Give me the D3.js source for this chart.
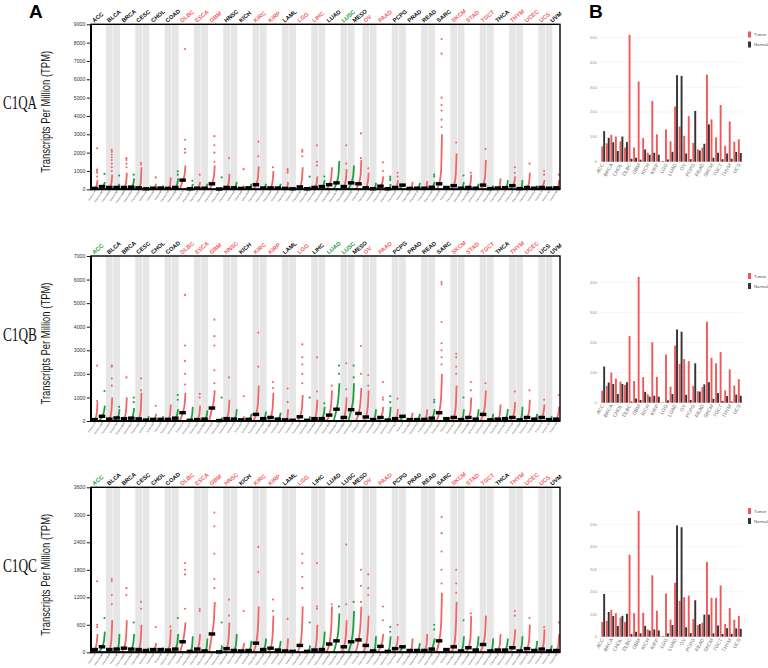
<!DOCTYPE html>
<html>
<head>
<meta charset="utf-8">
<script src="https://cdn.jsdelivr.net/npm/d3@7"></script>
<style>
  body { margin: 0; background: #fff; }
  svg { display: block; font-family: Arial, "Liberation Sans", sans-serif; }
</style>
</head>
<body>
<svg id="fig" width="768" height="668"></svg>
<script>
// ---- data: panel A (GEPIA style dot plots) ----
const cancers = ["ACC","BLCA","BRCA","CESC","CHOL","COAD","DLBC","ESCA","GBM","HNSC","KICH","KIRC","KIRP","LAML","LGG","LIHC","LUAD","LUSC","MESO","OV","PAAD","PCPG","PRAD","READ","SARC","SKCM","STAD","TGCT","THCA","THYM","UCEC","UCS","UVM"];
const tumorNum  = [77,404,1085,306,36,275,47,182,163,519,66,523,286,173,518,369,483,486,87,426,179,182,492,92,262,461,408,137,512,118,174,57,79];
const normalNum = [128,28,291,13,9,349,337,286,207,44,53,100,60,70,207,160,347,338,null,88,171,3,152,318,2,558,211,165,337,339,91,78,null];

// status of each cancer label: u = up in tumor, d = down, n = not significant
const c1qaStatus = ["n","n","n","n","n","n","u","u","u","n","n","u","u","n","u","u","n","d","n","u","u","n","n","n","n","u","u","u","n","u","u","u","n"];
const c1qbStatus = ["d","n","n","n","n","n","u","u","u","u","n","u","u","n","u","n","d","d","n","u","u","n","n","n","n","u","u","u","n","u","u","n","n"];
const c1qcStatus = ["d","n","n","n","n","n","u","u","u","u","n","u","u","n","u","n","n","n","n","u","u","n","n","n","n","u","u","u","n","u","u","u","n"];

// medians (TPM)
const c1qaTumorMed  = [50,100,100,80,60,50,500,60,300,100,50,250,80,50,130,100,250,150,300,80,170,100,50,60,300,200,100,230,70,200,100,100,80];
const c1qaNormalMed = [150,100,120,30,70,100,30,60,20,80,80,70,70,30,30,150,350,350,null,30,30,230,60,110,100,60,60,40,90,40,60,60,null];
// sorted point cloud read as [middle, knee, top of dense run]
const c1qaTumorCurve = [[40,200,500],[90,300,800],[90,300,900],[70,300,1200],[50,150,300],[50,200,650],[450,800,1300],[50,200,400],[280,700,1300],[90,300,850],[40,100,200],[230,600,1250],[70,400,1000],[30,100,400],[120,500,1200],[90,300,700],[230,600,1200],[140,500,1100],[280,700,1600],[70,400,900],[160,400,700],[90,250,500],[50,150,400],[50,150,450],[280,1000,3000],[180,800,1950],[90,300,800],[220,700,1600],[60,200,600],[150,400,700],[90,350,900],[90,300,500],[70,200,500]];
const c1qaTumorOut = [[700,900,1000,1080,2240],[1000,1200,1400,1600,1750,1900,2050,2150],[1200,1400,1600,1700],[1350,1450],[650],[],[2000,2200,2700,7650],[800],[1500,2000,2400,2900],[1700],[1100],[1800,2600],[1200],[900,1000,1100],[1800,2050,2150],[1300,1500,2400],[],[1400,2400],[1700,3050],[1150],[1000,1470],[700,900],[],[],[3400,3800,4300,4600,5000,7400,8200],[2550],[900],[2200],[],[900,1200],[1400],[800,1000],[800]];
const c1qaNormalCurve = [[120,250,400],[80,200,300],[100,300,600],[30,60,100],[60,120,200],[90,300,600],[20,100,300],[50,150,300],[15,40,100],[70,200,400],[70,150,300],[60,150,300],[60,150,300],[20,40,80],[20,60,150],[130,300,500],[330,800,1550],[330,700,1300],null,[20,100,350],[20,100,300],[200,220,250],[50,150,350],[100,250,400],[80,100,120],[50,200,400],[50,150,300],[30,100,200],[80,200,500],[30,150,500],[50,100,200],[50,100,150],null];
const c1qaNormalOut = [[840],[750],[800],[],[],[800,980],[470],[],[650],[],[],[],[],[],[690],[700],[],[],null,[],[500,600,700],[],[],[700,800],[],[750],[],[],[],[],[],[],null];

const c1qbTumorMed  = [60,80,100,90,70,70,350,60,550,100,50,280,150,50,180,100,250,150,320,170,150,100,60,70,350,150,150,280,80,150,150,150,80];
const c1qbNormalMed = [200,130,120,40,70,120,30,80,20,80,70,100,80,30,30,100,500,480,null,60,40,200,60,120,100,60,80,50,100,50,80,60,null];
const c1qbTumorCurve = [[50,300,800],[70,400,1000],[90,400,1000],[80,400,1200],[60,150,300],[60,250,700],[330,700,1200],[50,250,650],[500,900,1300],[90,400,900],[40,100,200],[260,700,1500],[130,500,1200],[30,100,500],[160,500,1100],[90,400,900],[230,700,1300],[140,500,1000],[300,800,1400],[160,600,1300],[140,350,600],[90,250,500],[50,150,350],[60,200,500],[330,1000,2000],[140,600,1500],[140,400,1000],[260,700,1300],[70,250,700],[130,400,800],[130,400,900],[130,400,700],[70,300,600]];
const c1qbTumorOut = [[850,2350],[1500,1800,2300,2350],[1850],[1300,1800],[650],[],[1550,2000,2550,3200,5350],[1000,1150],[1600,2150,3200,3600,4300],[1850],[1050],[2300,3750],[1400,1650],[800,1380],[1600,2000,2400,2700,3250],[1250,2700],[1500],[1350,2450],[2000,3180],[1500,1950],[900,1000,1650],[950],[],[],[2400,2700,3000,3300,4200,5800,5900],[2000,2300,2700,2850],[1300,1650],[1600],[],[1250],[1300],[900],[1100]];
const c1qbNormalCurve = [[180,400,650],[110,250,500],[110,300,550],[30,80,200],[60,120,200],[110,300,500],[20,200,600],[60,200,450],[15,50,150],[70,200,500],[60,150,300],[90,200,400],[70,200,350],[20,40,80],[20,60,200],[90,300,600],[480,1000,1600],[460,900,1600],null,[50,200,500],[30,200,600],[150,200,250],[50,150,300],[100,300,500],[90,100,110],[50,200,500],[70,200,500],[40,100,300],[90,250,500],[40,200,600],[70,150,300],[50,100,200],null];
const c1qbNormalOut = [[1270],[600],[800,1000],[],[],[900,1100],[],[],[1000],[],[],[],[],[],[1000],[750],[2000,2350],[1850,2350],null,[],[800,1050],[],[],[800,900],[],[1000],[],[],[],[],[],[],null];

const c1qcTumorMed  = [60,60,90,60,60,50,230,70,400,80,30,200,90,30,150,50,180,120,270,150,130,80,40,40,250,120,100,170,50,100,80,70,40];
const c1qcNormalMed = [120,70,70,40,60,70,20,30,10,40,40,60,50,20,20,60,250,230,null,30,20,120,40,70,60,30,50,30,50,30,40,30,null];
const c1qcTumorCurve = [[50,200,400],[50,250,700],[80,300,700],[50,250,600],[50,100,200],[40,200,500],[200,450,650],[60,200,400],[380,700,1100],[70,300,650],[25,80,200],[180,500,1000],[80,350,800],[20,80,300],[130,450,1000],[40,250,600],[170,500,1000],[110,350,700],[250,600,1000],[140,450,800],[120,250,400],[70,200,350],[35,100,300],[35,150,400],[230,600,1300],[110,500,1100],[90,300,800],[160,400,800],[45,150,400],[80,250,500],[70,250,600],[60,200,500],[35,150,400]];
const c1qcTumorOut = [[550,600,1550],[1050,1250,1550,1600],[1250,1400],[950,1100],[550],[560],[950,1700,1800,1950],[900,950],[1400,1600,2150,2750,3050],[800,1150],[900],[1750,2300],[900,1150],[730],[1400,1650,1950,2150],[950,1000,1950],[1050],[1050,2350],[1100,1450,1800],[1250,1400,1700],[700,1000],[600],[],[],[1500,1800,2200,2600,2950],[1300,1500,1800],[850],[],[],[800,900],[750],[550],[650]];
const c1qcNormalCurve = [[110,250,450],[60,150,400],[60,200,400],[30,60,100],[50,80,100],[60,200,400],[15,100,350],[25,100,300],[10,40,150],[30,150,400],[30,100,250],[50,150,300],[40,120,250],[15,30,60],[15,50,150],[50,200,450],[230,500,850],[210,500,900],null,[25,100,350],[15,150,350],[100,120,150],[35,100,200],[60,200,300],[55,60,65],[25,150,350],[40,150,350],[25,100,300],[45,150,300],[25,150,350],[35,100,250],[25,80,150],null];
const c1qcNormalOut = [[750],[],[650],[],[],[750],[],[],[650],[],[],[],[],[],[650],[],[1000],[1100],null,[],[450,550],[],[],[500,600],[],[700],[],[],[],[],[],[],null];

// ---- data: panel B (bar charts) ----
const cancersB = ["ACC","BLCA","BRCA","CESC","CHOL","COAD","DLBC","ESCA","GBM","HNSC","KICH","KIRC","KIRP","LAML","LGG","LIHC","LUAD","LUSC","OV","PAAD","PCPG","PRAD","READ","SARC","SKCM","STAD","TGCT","THCA","THYM","UCEC","UCS"];
const seriesB = ["Tumor","Normal"];
const c1qaBarTumor  = [62,74,108,101,82,57,510,57,322,95,36,244,110,2,130,82,222,142,104,183,76,50,57,350,170,98,228,64,162,80,90];
const c1qaBarNormal = [123,96,78,43,101,79,12,16,8,49,28,36,28,2,9,40,348,345,33,10,204,45,72,150,16,36,10,33,12,39,35];
const c1qbBarTumor  = [40,56,100,80,70,59,222,72,418,85,28,201,86,1,160,53,190,129,145,138,56,38,52,269,149,131,168,41,111,57,78];
const c1qbBarNormal = [120,67,62,29,62,68,4,14,9,36,20,23,20,1,8,29,243,236,26,9,131,37,61,68,13,32,6,22,4,27,23];
const c1qcBarTumor  = [65,70,120,105,85,65,365,105,560,106,33,273,116,2,192,76,240,160,176,183,78,52,62,333,173,173,228,57,128,75,92];
const c1qcBarNormal = [190,110,92,48,93,102,12,22,15,48,27,32,28,2,15,52,495,487,42,16,162,56,98,98,15,50,12,38,13,37,35];

// ---- drawing ----
const svg = d3.select("#fig");
const RED = "#f26567", GREEN = "#1f9e3b";
const statusColor = { u: RED, d: GREEN, n: "#111" };

// one column per tumour group, one per normal group when normals exist
const cols = [];
cancers.forEach((c, i) => {
    cols.push({ i, t: "T" });
    if (normalNum[i] != null) cols.push({ i, t: "N" });
});
const xCol = d3.scaleBand().domain(d3.range(cols.length)).range([91, 560]);
const curveFrac = [0, 0.5, 0.85, 1];

const panelsA = [
    { gene: "C1QA", max: 9000, step: 1000, top: 24.3, bottom: 189.3, status: c1qaStatus,
      tMed: c1qaTumorMed, nMed: c1qaNormalMed, tCurve: c1qaTumorCurve, nCurve: c1qaNormalCurve, tOut: c1qaTumorOut, nOut: c1qaNormalOut },
    { gene: "C1QB", max: 7000, step: 1000, top: 256, bottom: 421, status: c1qbStatus,
      tMed: c1qbTumorMed, nMed: c1qbNormalMed, tCurve: c1qbTumorCurve, nCurve: c1qbNormalCurve, tOut: c1qbTumorOut, nOut: c1qbNormalOut },
    { gene: "C1QC", max: 3600, step: 600, top: 487.3, bottom: 652.3, status: c1qcStatus,
      tMed: c1qcTumorMed, nMed: c1qcNormalMed, tCurve: c1qcTumorCurve, nCurve: c1qcNormalCurve, tOut: c1qcTumorOut, nOut: c1qcNormalOut }
];

function drawA(p) {
    const g = svg.append("g");
    const y = d3.scaleLinear().domain([0, p.max]).range([p.bottom, p.top]);
    const bw = xCol.bandwidth();

    // grey shading on every second cancer
    cols.forEach((c, k) => {
        if (c.i % 2 === 1) {
            g.append("rect").attr("x", xCol(k) + 0.3).attr("y", p.top)
                .attr("width", bw - 0.6).attr("height", p.bottom - p.top).attr("fill", "#e6e6e6");
        }
    });

    // point clouds
    cols.forEach((c, k) => {
        const isT = c.t === "T";
        const curve = isT ? p.tCurve[c.i] : p.nCurve[c.i];
        const outs = isT ? p.tOut[c.i] : p.nOut[c.i];
        const color = isT ? RED : GREEN;
        const fx = d3.scaleLinear().domain([0, 1]).range([xCol(k) + 0.8, xCol(k) + bw - 0.8]);
        const pts = [0, ...curve].map((v, j) => [fx(curveFrac[j]), y(v)]);
        g.append("path").attr("d", d3.line().curve(d3.curveMonotoneX)(pts))
            .attr("fill", "none").attr("stroke", color).attr("stroke-width", 1.8);
        g.selectAll(null).data(outs).enter().append("circle")
            .attr("cx", fx(0.93)).attr("cy", d => y(d)).attr("r", 1.05).attr("fill", color);
    });

    // median bars
    cols.forEach((c, k) => {
        const med = c.t === "T" ? p.tMed[c.i] : p.nMed[c.i];
        g.append("rect").attr("x", xCol(k) + 0.4).attr("width", bw - 0.8)
            .attr("y", y(med) - 1.7).attr("height", 3.4).attr("fill", "#000");
    });

    // frame
    g.append("rect").attr("x", 91).attr("y", p.top).attr("width", 469).attr("height", p.bottom - p.top)
        .attr("fill", "none").attr("stroke", "#000").attr("stroke-width", 1.4);
    g.append("line").attr("x1", 91).attr("x2", 91).attr("y1", p.top).attr("y2", p.bottom + 1)
        .attr("stroke", "#000").attr("stroke-width", 2);
    g.append("line").attr("x1", 90).attr("x2", 560).attr("y1", p.bottom).attr("y2", p.bottom)
        .attr("stroke", "#000").attr("stroke-width", 2);

    // y axis
    const ax = g.append("g").attr("transform", "translate(90,0)")
        .call(d3.axisLeft(y).tickValues(d3.range(0, p.max + 1, p.step)).tickSize(3.2).tickPadding(1.5).tickFormat(d3.format("d")));
    ax.select(".domain").remove();
    ax.selectAll("text").attr("font-size", 5.2).attr("fill", "#333");
    ax.selectAll("line").attr("stroke-width", 0.9);

    // cancer labels on top
    cancers.forEach((c, i) => {
        const ks = cols.map((cc, k) => cc.i === i ? k : -1).filter(k => k >= 0);
        const cx = (xCol(ks[0]) + xCol(ks[ks.length - 1]) + bw) / 2;
        g.append("text").attr("transform", `translate(${cx - 4},${p.top - 1.5}) rotate(-40)`)
            .attr("font-size", 5.8).attr("font-weight", "bold").attr("fill", statusColor[p.status[i]])
            .text(c);
    });

    // sample labels below
    cols.forEach((c, k) => {
        const n = c.t === "T" ? tumorNum[c.i] : normalNum[c.i];
        g.append("text").attr("transform", `translate(${xCol(k) + bw / 2 + 1},${p.bottom + 2.3}) rotate(-55)`)
            .attr("text-anchor", "end").attr("font-size", 2.4).attr("fill", "#333")
            .text(`${c.t}(num=${n})`);
        g.append("line").attr("x1", xCol(k) + bw / 2).attr("x2", xCol(k) + bw / 2)
            .attr("y1", p.bottom).attr("y2", p.bottom + 1.5).attr("stroke", "#000").attr("stroke-width", 0.5);
    });

    // titles
    const mid = (p.top + p.bottom) / 2 + 5;
    g.append("text").attr("transform", `translate(50,${mid}) rotate(-90)`)
        .attr("text-anchor", "middle").attr("font-size", 13).attr("fill", "#111")
        .attr("textLength", 122).attr("lengthAdjust", "spacingAndGlyphs")
        .text("Transcripts Per Million (TPM)");
    g.append("text").attr("x", 3).attr("y", mid - 3)
        .attr("font-family", "'Liberation Serif', 'DejaVu Serif', serif").attr("font-size", 19).attr("fill", "#111")
        .attr("textLength", 34).attr("lengthAdjust", "spacingAndGlyphs")
        .text(p.gene);
}

panelsA.forEach(drawA);

// ---- panel B ----
const panelsB = [
    { t: c1qaBarTumor, n: c1qaBarNormal, base: 161.7, refY: 37.3, ref: 500, maxTick: 500, legY: 31.5 },
    { t: c1qbBarTumor, n: c1qbBarNormal, base: 402.7, refY: 282.3, ref: 400, maxTick: 400, legY: 273 },
    { t: c1qcBarTumor, n: c1qcBarNormal, base: 636.7, refY: 524.3, ref: 500, maxTick: 500, legY: 508 }
];
const xB = d3.scaleBand().domain(cancersB).range([601, 742]).paddingInner(0.14).paddingOuter(0.05);
const xS = d3.scaleBand().domain(seriesB).range([0, xB.bandwidth()]).padding(0.02);
const colorB = d3.scaleOrdinal().domain(seriesB).range(["#f0595c", "#333333"]);

function drawB(p) {
    const g = svg.append("g");
    const y = d3.scaleLinear().domain([0, p.ref]).range([p.base, p.refY]);
    const ticks = d3.range(0, p.maxTick + 1, 100);
    g.selectAll(null).data(ticks).enter().append("line")
        .attr("x1", 599).attr("x2", 742).attr("y1", d => y(d)).attr("y2", d => y(d))
        .attr("stroke", "#ececec").attr("stroke-width", 0.6);
    g.selectAll(null).data(ticks).enter().append("text")
        .attr("x", 597).attr("y", d => y(d) + 1.5).attr("text-anchor", "end")
        .attr("font-size", 4.3).attr("fill", "#999").text(d => d);

    const rows = cancersB.map((c, i) => ({ c, Tumor: p.t[i], Normal: p.n[i] }));
    const grp = g.selectAll(null).data(rows).enter().append("g")
        .attr("transform", d => `translate(${xB(d.c)},0)`);
    grp.selectAll("rect").data(d => seriesB.map(s => ({ s, v: d[s] }))).enter().append("rect")
        .attr("x", d => xS(d.s)).attr("width", xS.bandwidth())
        .attr("y", d => y(d.v)).attr("height", d => p.base - y(d.v))
        .attr("fill", d => colorB(d.s));

    cancersB.forEach((c, i) => {
        if (i % 2 !== 0) return;
        g.append("text").attr("transform", `translate(${xB(c) + xB.bandwidth() / 2 + 1},${p.base + 3}) rotate(-60)`)
            .attr("text-anchor", "end").attr("font-size", 5).attr("fill", "#777").text(c);
    });

    seriesB.forEach((s, j) => {
        const ly = p.legY + j * 10;
        g.append("rect").attr("x", 748).attr("y", ly).attr("width", 3).attr("height", 6).attr("fill", colorB(s));
        g.append("text").attr("x", 754).attr("y", ly + 4.8).attr("font-size", 4.3).attr("fill", "#555").text(s);
    });
}

panelsB.forEach(drawB);

// panel letters
svg.append("text").attr("x", 29).attr("y", 18).attr("font-size", 19).attr("font-weight", "bold").text("A");
svg.append("text").attr("x", 589).attr("y", 18).attr("font-size", 19).attr("font-weight", "bold").text("B");
</script>
</body>
</html>
